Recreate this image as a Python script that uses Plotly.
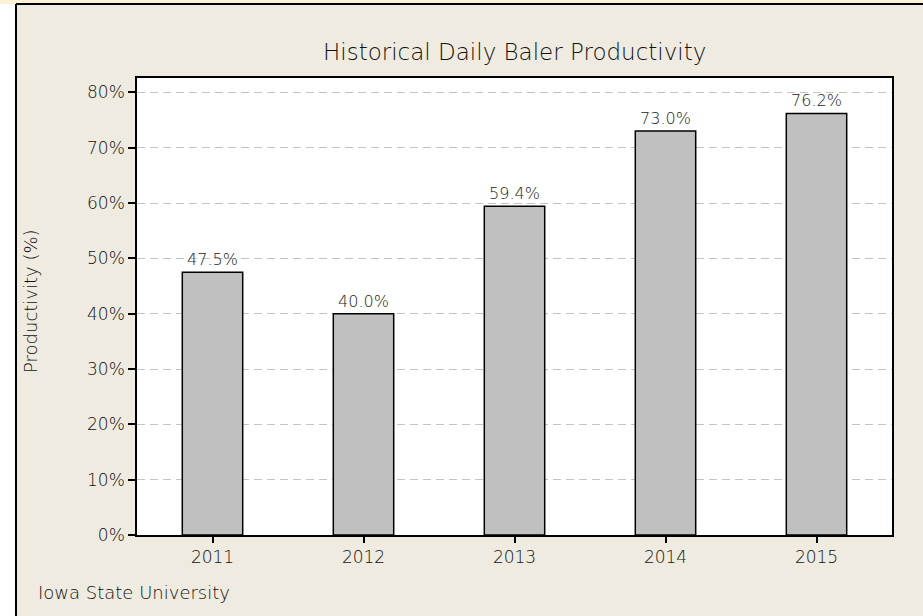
import plotly.graph_objects as go

years = ["2011", "2012", "2013", "2014", "2015"]
productivity = [47.5, 40.0, 59.4, 73.0, 76.2]
labels = ["47.5%", "40.0%", "59.4%", "73.0%", "76.2%"]
y_ticks = [0, 10, 20, 30, 40, 50, 60, 70, 80]
y_tick_labels = ["0%", "10%", "20%", "30%", "40%", "50%", "60%", "70%", "80%"]

W, H = 923, 616
L, R, T, B = 137, 892, 78, 535
pw, ph = R - L, B - T


def px(x):
    return (x - L) / pw


def py(y):
    return (B - y) / ph


FONT = "DejaVu Sans"
WGT = 300
TXT = "#111111"

fig = go.Figure()
fig.add_trace(go.Bar(
    x=years, y=productivity, text=labels, textposition="outside",
    textfont=dict(family=FONT, size=16, color="#222222", weight=WGT),
    marker=dict(color="#C0C0C0", line=dict(color="#000000", width=1.5)),
    width=0.4, cliponaxis=False, hoverinfo="skip",
))

shapes = [
    dict(type="rect", xref="paper", yref="paper", x0=px(0), x1=px(16), y0=py(H), y1=py(0),
         fillcolor="#FFFFFF", line=dict(width=0), layer="below"),
    dict(type="rect", xref="paper", yref="paper", x0=px(0), x1=px(W), y0=py(4), y1=py(0),
         fillcolor="#FDF1D6", line=dict(width=0), layer="below"),
    dict(type="line", xref="paper", yref="paper", x0=px(16), x1=px(16), y0=py(H), y1=py(4),
         line=dict(color="#000000", width=2)),
    dict(type="line", xref="paper", yref="paper", x0=px(16), x1=px(W), y0=py(4), y1=py(4),
         line=dict(color="#000000", width=2)),
]

annotations = [
    dict(text="Historical Daily Baler Productivity", xref="paper", yref="paper",
         x=0.5, y=py(52), xanchor="center", yanchor="middle", showarrow=False,
         font=dict(family=FONT, size=23, color=TXT, weight=WGT)),
    dict(text="Productivity (%)", xref="paper", yref="paper", textangle=-90,
         x=px(30), y=py(301), xanchor="center", yanchor="middle", showarrow=False,
         font=dict(family=FONT, size=18, color=TXT, weight=WGT)),
    dict(text="Iowa State University", xref="paper", yref="paper",
         x=px(36), y=py(592), xanchor="left", yanchor="middle", showarrow=False,
         font=dict(family=FONT, size=18, color=TXT, weight=WGT)),
]

fig.update_layout(
    width=W, height=H,
    margin=dict(l=L, r=W - R, t=T, b=H - B, pad=0),
    paper_bgcolor="#EFEBE0", plot_bgcolor="#FFFFFF",
    showlegend=False,
    shapes=shapes, annotations=annotations,
    font=dict(family=FONT, color=TXT),
)
fig.update_xaxes(
    type="category", range=[-0.5, 4.5], showline=True, linecolor="#000000", linewidth=1.5,
    mirror=True, ticks="outside", ticklen=6, tickcolor="#000000", tickwidth=1.5,
    tickfont=dict(family=FONT, size=17, color=TXT, weight=WGT), showgrid=False, fixedrange=True,
    ticklabelstandoff=0,
)
fig.update_yaxes(
    range=[0, 82.6], tickmode="array", tickvals=y_ticks, ticktext=y_tick_labels,
    showline=True, linecolor="#000000",
    linewidth=1.5, mirror=True, ticks="outside", ticklen=7, tickcolor="#000000", tickwidth=1.5,
    tickfont=dict(family=FONT, size=17, color=TXT, weight=WGT), showgrid=True, gridcolor="#C4C4C4",
    griddash="8px,5px", gridwidth=1, zeroline=False, fixedrange=True,
)

fig.write_html(
    "out.html", config={"displayModeBar": False},
    post_script="document.body.style.margin='0';document.body.style.padding='0';",
)
